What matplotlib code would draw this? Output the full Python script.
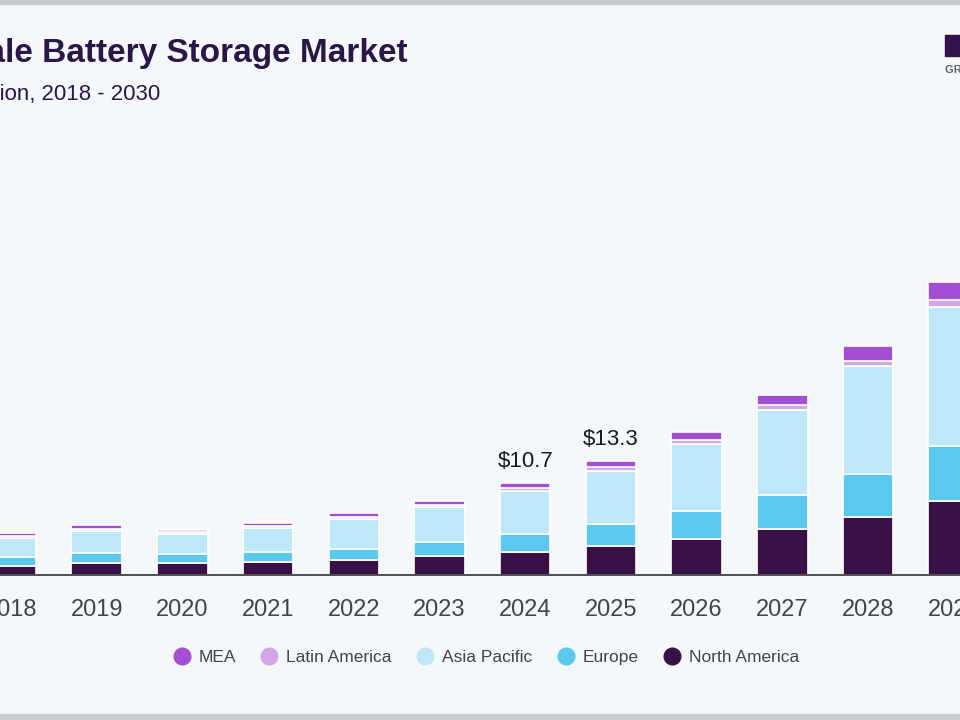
import numpy as np
import matplotlib
matplotlib.use("Agg")
import matplotlib.pyplot as plt
from matplotlib.patches import Rectangle
from matplotlib.lines import Line2D

plt.rcParams['font.family'] = ['Liberation Sans', 'DejaVu Sans']

# market size by region, USD billion
years = ['2018', '2019', '2020', '2021', '2022', '2023',
         '2024', '2025', '2026', '2027', '2028', '2029']
north_america = [1.05, 1.37, 1.37, 1.52, 1.75, 2.18, 2.73, 3.35, 4.19, 5.38, 6.78, 8.64]
europe = [1.02, 1.17, 1.02, 1.17, 1.32, 1.64, 2.07, 2.57, 3.26, 3.88, 4.96, 6.40]
asia_pacific = [2.20, 2.60, 2.38, 2.73, 3.43, 4.10, 4.95, 6.20, 7.83, 9.97, 12.56, 16.10]
latin_america = [0.30, 0.23, 0.23, 0.31, 0.23, 0.27, 0.35, 0.39, 0.39, 0.55, 0.58, 0.78]
mea = [0.35, 0.47, 0.27, 0.31, 0.47, 0.47, 0.60, 0.79, 0.97, 1.10, 1.74, 2.13]
labelled_years = ['2024', '2025']

series = [
    ('North America', north_america, '#3a1049'),
    ('Europe', europe, '#5bc8f0'),
    ('Asia Pacific', asia_pacific, '#bee8f9'),
    ('Latin America', latin_america, '#d4a6e7'),
    ('MEA', mea, '#a24fd6'),
]

bg = '#f4f8fb'
W, H = 960, 720
fig = plt.figure(figsize=(9.6, 7.2), dpi=100)
fig.patch.set_facecolor(bg)

# axes: baseline at y=575px, 8.6 px per billion
ax_bottom = (H - 575) / H
ax_top_px = 120
ax_h = (575 - ax_top_px) / H
ax = fig.add_axes([0, ax_bottom, 1, ax_h])
ax.set_facecolor(bg)

x = np.arange(len(years))
bottom = np.zeros(len(years))
for name, vals, col in series:
    ax.bar(x, vals, width=0.59, bottom=bottom, color=col,
           edgecolor='white', linewidth=1.2, label=name, zorder=2)
    bottom += np.array(vals)

totals = bottom
for yr in labelled_years:
    i = years.index(yr)
    ax.annotate(f'${totals[i]:.1f}', (x[i], totals[i]), xytext=(0, 11.5),
                textcoords='offset points', ha='center', va='baseline',
                fontsize=16, color='#1a1a1a')

px_per_unit = 8.6
ax.set_ylim(0, (575 - ax_top_px) / px_per_unit)
ax.set_xlim(-11 / 85.7, (W - 11) / 85.7)

for s in ['top', 'right', 'left']:
    ax.spines[s].set_visible(False)
ax.spines['bottom'].set_color('#333333')
ax.spines['bottom'].set_linewidth(1.2)
ax.set_yticks([])
ax.set_xticks(x)
ax.set_xticklabels(years)
ax.tick_params(axis='x', length=0, pad=17, labelsize=17, labelcolor='#444444')

# titles (the picture is cropped on the left)
fig.text(408 / W, 1 - 62 / H, 'Utility-scale Battery Storage Market',
         ha='right', va='baseline', fontsize=24, fontweight='bold', color='#2b1747')
fig.text(160 / W, 1 - 100 / H, 'size, by region, 2018 - 2030',
         ha='right', va='baseline', fontsize=16, color='#2b1747')

# logo corner
fig.patches.append(Rectangle((945 / W, 1 - 56 / H), 30 / W, 21 / H,
                             transform=fig.transFigure, color='#33124d'))
fig.text(945 / W, 1 - 73 / H, 'GRAND VIEW RESEARCH', ha='left', va='baseline',
         fontsize=8, fontweight='bold', color='#666666')

# frame edges
fig.patches.append(Rectangle((0, 1 - 4 / H), 1, 4 / H, transform=fig.transFigure,
                             color='#c9cbcb'))
fig.patches.append(Rectangle((0, 0), 1, 6 / H, transform=fig.transFigure,
                             color='#c9cbcb'))

# legend
order = ['MEA', 'Latin America', 'Asia Pacific', 'Europe', 'North America']
cmap = {n: c for n, _, c in series}
handles = [Line2D([], [], marker='o', linestyle='', markersize=12,
                  markerfacecolor=cmap[n], markeredgecolor=cmap[n]) for n in order]
leg = fig.legend(handles, order, loc='center', bbox_to_anchor=(486 / W, 1 - 657 / H),
                 ncol=5, frameon=False, fontsize=12.5, handlelength=1.0,
                 handletextpad=0.45, columnspacing=1.45)
for t in leg.get_texts():
    t.set_color('#444444')

fig.savefig('out.png', dpi=100, facecolor=bg)
